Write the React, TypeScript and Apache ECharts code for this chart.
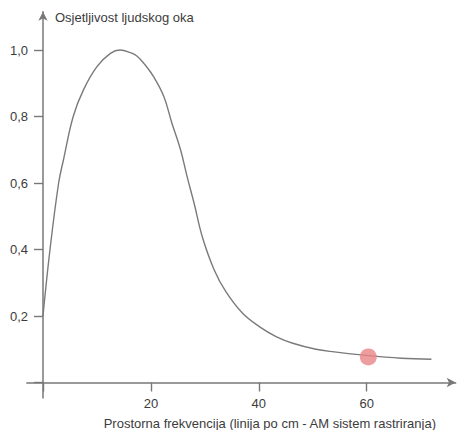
import React, { useEffect, useRef } from "react";
import * as echarts from "echarts";

// Spatial frequency (lines per cm) and sensitivity of the human eye
const curveX = [0, 1.3, 2.9, 3.8, 5.6, 7.5, 10, 12.5, 14.3, 16.2, 17.4, 18.7, 20.5, 22.4, 23.9, 25.5, 26.7, 28.0, 29.5, 31.7, 33.9, 37.0, 40.1, 43.2, 46.3, 50.6, 54.0, 59.0, 66.4, 72.0];
const curveY = [0.2, 0.4, 0.6, 0.67, 0.8, 0.88, 0.95, 0.99, 1.0, 0.992, 0.982, 0.96, 0.92, 0.86, 0.78, 0.7, 0.62, 0.54, 0.44, 0.34, 0.273, 0.208, 0.168, 0.138, 0.118, 0.1, 0.092, 0.083, 0.073, 0.07];

// Highlighted point (AM screening, 60 lines per cm)
const markX = [60.3];
const markY = [0.077];

// Tick values: step and last labelled tick
const xTickStep = 20;
const xTickLast = 60;
const yTickStep = 0.2;
const yTickLast = 1.0;

const yName = "Osjetljivost ljudskog oka";
const xName = "Prostorna frekvencija (linija po cm - AM sistem rastriranja)";

const FONT = '"Liberation Sans", Arial, sans-serif';
const AXIS_COLOR = "#787878";
const TEXT_COLOR = "#3c3c3c";

const X_MAX = 76.5;
const Y_MAX = 1.115;

export default function App() {
  const ref = useRef<HTMLDivElement>(null);

  useEffect(() => {
    if (!ref.current) return;
    const chart = echarts.init(ref.current, null, { renderer: "svg" });
    const textStyle = { color: TEXT_COLOR, fontFamily: FONT, fontSize: 13 };
    const lineStyle = { color: AXIS_COLOR, width: 1.5 };
    const tickStyle = { color: AXIS_COLOR, width: 1.4 };
    chart.setOption({
      animation: false,
      backgroundColor: "#ffffff",
      grid: [
        // grid 0: axis lines crossing at the origin, extended past it, with arrows; holds the data
        { left: 26.8, right: 4.3, top: 11.8, bottom: 31.9, containLabel: false, outerBoundsMode: "none" },
        // grid 1: ticks, labels and names, from the origin to the last tick (same scale as grid 0)
        { left: 43, right: 93.3, top: 50, bottom: 47.5, containLabel: false, outerBoundsMode: "none" },
      ],
      xAxis: [
        {
          gridIndex: 0,
          type: "value",
          min: -3,
          max: X_MAX,
          axisLine: { show: true, onZero: true, symbol: ["none", "arrow"], symbolSize: [7, 9], lineStyle },
          axisTick: { show: false },
          axisLabel: { show: false },
          splitLine: { show: false },
        },
        {
          gridIndex: 1,
          type: "value",
          min: 0,
          max: xTickLast,
          interval: xTickStep,
          name: xName,
          nameLocation: "end",
          nameGap: -(366.7 - 436),
          nameMoveOverlap: false,
          nameTextStyle: { ...textStyle, align: "right", verticalAlign: "top", padding: [34, 0, 0, 0] },
          axisLine: { show: false, onZero: false },
          axisTick: { show: true, inside: false, length: 9, lineStyle: tickStyle },
          axisLabel: {
            show: true,
            margin: 14,
            ...textStyle,
            formatter: (v: number) => (v === 0 ? "" : String(v)),
          },
          splitLine: { show: false },
        },
      ],
      yAxis: [
        {
          gridIndex: 0,
          type: "value",
          min: -0.047,
          max: Y_MAX,
          axisLine: { show: true, onZero: true, symbol: ["none", "arrow"], symbolSize: [7, 9], lineStyle },
          axisTick: { show: false },
          axisLabel: { show: false },
          splitLine: { show: false },
        },
        {
          gridIndex: 1,
          type: "value",
          min: 0,
          max: yTickLast,
          interval: yTickStep,
          name: yName,
          nameLocation: "end",
          nameGap: 33,
          nameMoveOverlap: false,
          nameTextStyle: { ...textStyle, align: "left", verticalAlign: "middle", padding: [0, 0, 0, 12] },
          axisLine: { show: false, onZero: false },
          axisTick: { show: true, inside: false, length: 9, lineStyle: tickStyle },
          axisLabel: {
            show: true,
            margin: 15,
            ...textStyle,
            formatter: (v: number) => (v === 0 ? "" : v.toFixed(1).replace(".", ",")),
          },
          splitLine: { show: false },
        },
      ],
      series: [
        {
          type: "line",
          xAxisIndex: 0,
          yAxisIndex: 0,
          data: curveX.map((x, i) => [x, curveY[i]]),
          smooth: 0.4,
          showSymbol: false,
          symbol: "none",
          lineStyle: { color: "#7a7a7a", width: 1.4 },
          z: 2,
        },
        {
          type: "scatter",
          xAxisIndex: 0,
          yAxisIndex: 0,
          data: markX.map((x, i) => [x, markY[i]]),
          symbol: "circle",
          symbolSize: 17,
          itemStyle: { color: "#e98585" },
          z: 3,
        },
      ],
    });
    return () => chart.dispose();
  }, []);

  return (
    <div
      ref={ref}
      style={{ position: "fixed", left: 0, top: 0, width: 460, height: 430, background: "#fff" }}
    />
  );
}
